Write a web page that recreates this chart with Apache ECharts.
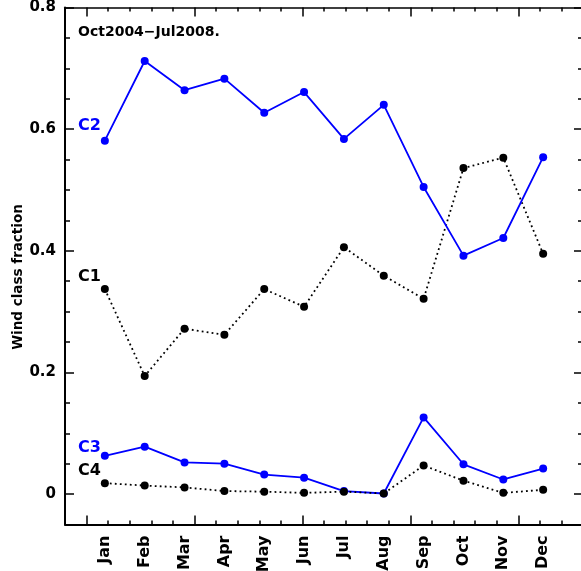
<!DOCTYPE html>
<html><head><meta charset="utf-8">
<script src="https://cdn.jsdelivr.net/npm/echarts@6/dist/echarts.min.js"></script>
<style>html,body{margin:0;padding:0;background:#fff;}#c{width:581px;height:571px;}</style>
</head><body><div id="c"></div>
<script>
const months = ['Jan','Feb','Mar','Apr','May','Jun','Jul','Aug','Sep','Oct','Nov','Dec'];
const c1 = [0.337,0.194,0.272,0.262,0.337,0.308,0.406,0.359,0.321,0.536,0.553,0.395];
const c2 = [0.581,0.712,0.664,0.683,0.627,0.661,0.584,0.640,0.505,0.392,0.421,0.554];
const c3 = [0.063,0.078,0.052,0.050,0.032,0.027,0.005,0.001,0.126,0.049,0.024,0.042];
const c4 = [0.018,0.014,0.011,0.005,0.004,0.002,0.004,0.001,0.047,0.022,0.002,0.007];
const yMajor = [0,0.2,0.4,0.6,0.8];
const yMinor = [-0.05,0.05,0.1,0.15,0.25,0.3,0.35,0.45,0.5,0.55,0.65,0.7,0.75];
const xMajor = [0,5,10,15,20];
const xMinor = [1,2,3,4,6,7,8,9,11,12,13,14,16,17,18,19,21,22];

const FONT = 'DejaVu Sans';
const BLUE = '#0000ff';
const monthPos = months.map((m,i)=>i+1);
const toData = arr => arr.map((v,i)=>[i+1,v]);

function tickX(pos, vals, len){
  return {type:'value', min:-1, max:23, position:pos, gridIndex:0,
    axisLine:{show:false, onZero:false}, splitLine:{show:false}, axisLabel:{show:false},
    axisTick:{show:true, inside:true, length:len, customValues:vals, lineStyle:{color:'#000', width:1.5}}};
}
function tickY(pos, vals, len){
  return {type:'value', min:-0.05, max:0.8, position:pos,
    axisLine:{show:false, onZero:false}, splitLine:{show:false}, axisLabel:{show:false},
    axisTick:{show:true, inside:true, length:len, customValues:vals, lineStyle:{color:'#000', width:1.5}}};
}

const chart = echarts.init(document.getElementById('c'), null, {renderer:'canvas'});
chart.setOption({
  animation:false,
  backgroundColor:'#fff',
  grid:{left:65, top:7.5, width:518, height:517, containLabel:false, outerBoundsMode:'none'},
  xAxis:[
    {type:'value', min:0, max:13, position:'bottom',
      axisLine:{show:true, onZero:false, lineStyle:{color:'#000', width:2}},
      axisTick:{show:false}, splitLine:{show:false},
      axisLabel:{show:true, customValues:monthPos, rotate:90, margin:11,
        formatter:v=>months[Math.round(v)-1]||'',
        fontFamily:FONT, fontWeight:'bold', fontSize:16, color:'#000'}},
    {type:'value', min:0, max:13, position:'top',
      axisLine:{show:true, onZero:false, lineStyle:{color:'#000', width:1.5}},
      axisTick:{show:false}, splitLine:{show:false}, axisLabel:{show:false}},
    tickX('bottom', xMajor, 9),
    tickX('bottom', xMinor, 4),
    tickX('top', xMajor, 9),
    tickX('top', xMinor, 4)
  ],
  yAxis:[
    {type:'value', min:-0.05, max:0.8, position:'left',
      axisLine:{show:true, onZero:false, lineStyle:{color:'#000', width:2}},
      axisTick:{show:true, inside:true, length:9, customValues:yMajor, lineStyle:{color:'#000', width:1.5}},
      splitLine:{show:false},
      axisLabel:{show:true, customValues:yMajor, margin:9,
        formatter:v=> (Math.abs(v)<1e-9 ? '0' : v.toFixed(1)),
        fontFamily:FONT, fontWeight:'bold', fontSize:15, color:'#000'}},
    tickY('left', yMinor, 5),
    tickY('right', yMajor, 9),
    tickY('right', yMinor, 5)
  ],
  series:[
    {type:'line', name:'C1', data:toData(c1), xAxisIndex:0, yAxisIndex:0,
      symbol:'circle', symbolSize:8, itemStyle:{color:'#000'},
      lineStyle:{color:'#000', width:1.8, type:[1.8,3.2]}},
    {type:'line', name:'C2', data:toData(c2), xAxisIndex:0, yAxisIndex:0,
      symbol:'circle', symbolSize:8, itemStyle:{color:BLUE},
      lineStyle:{color:BLUE, width:1.8}},
    {type:'line', name:'C3', data:toData(c3), xAxisIndex:0, yAxisIndex:0,
      symbol:'circle', symbolSize:8, itemStyle:{color:BLUE},
      lineStyle:{color:BLUE, width:1.8}},
    {type:'line', name:'C4', data:toData(c4), xAxisIndex:0, yAxisIndex:0,
      symbol:'circle', symbolSize:8, itemStyle:{color:'#000'},
      lineStyle:{color:'#000', width:1.8, type:[1.8,3.2]}}
  ],
  graphic:[
    {type:'text', x:18, y:277, rotation:Math.PI/2,
      style:{text:'Wind class fraction', font:'bold 13.5px "DejaVu Sans"', fill:'#000', align:'center', verticalAlign:'middle'}},
    {type:'text', x:78, y:32, style:{text:'Oct2004\u2212Jul2008.', font:'bold 14px "DejaVu Sans"', fill:'#000', verticalAlign:'middle'}},
    {type:'text', x:78, y:126, style:{text:'C2', font:'bold 16px "DejaVu Sans"', fill:BLUE, verticalAlign:'middle'}},
    {type:'text', x:78, y:277, style:{text:'C1', font:'bold 16px "DejaVu Sans"', fill:'#000', verticalAlign:'middle'}},
    {type:'text', x:78, y:448, style:{text:'C3', font:'bold 16px "DejaVu Sans"', fill:BLUE, verticalAlign:'middle'}},
    {type:'text', x:78, y:471, style:{text:'C4', font:'bold 16px "DejaVu Sans"', fill:'#000', verticalAlign:'middle'}}
  ]
});
</script></body></html>
